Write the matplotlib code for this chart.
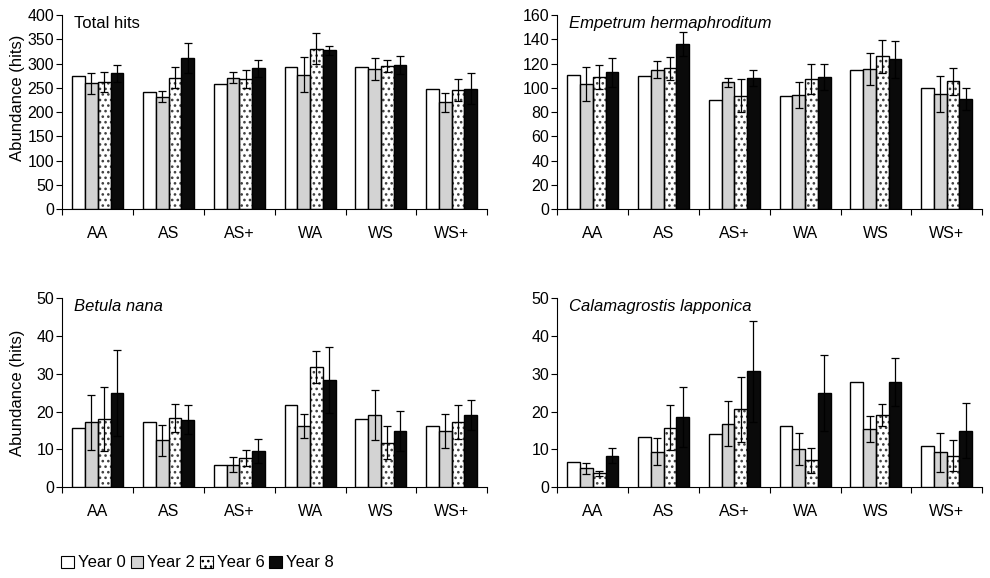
import numpy as np
import matplotlib
matplotlib.use("Agg")
import matplotlib.pyplot as plt
from matplotlib.patches import Patch

plt.rcParams['font.family'] = ['Liberation Sans', 'DejaVu Sans']
plt.rcParams['hatch.linewidth'] = 1.1

treatments = ["AA", "AS", "AS+", "WA", "WS", "WS+"]
years = ["Year 0", "Year 2", "Year 6", "Year 8"]

# mean hits per treatment, one row per survey year
total_mean = [[275, 242, 257, 292, 292, 248],
              [259, 232, 271, 277, 289, 220],
              [262, 271, 268, 331, 295, 245],
              [280, 311, 290, 327, 297, 248]]
total_err = [[22, 12, 11, 36, 22, 20],
             [21, 21, 18, 32, 13, 23],
             [18, 31, 18, 10, 19, 32]]

empetrum_mean = [[111, 109.5, 90, 93, 114.5, 99.5],
                 [103.5, 115, 104.5, 94, 115.5, 95],
                 [109, 116, 93.5, 107.5, 126, 105.5],
                 [113, 136, 108, 109, 123.5, 90.5]]
empetrum_err = [[14, 7, 3.5, 10.5, 13, 15],
                [10, 9.5, 13.5, 12.5, 13.5, 11],
                [12, 10, 6.5, 11, 15, 9]]

betula_mean = [[15.7, 17.2, 6.0, 21.7, 18.1, 16.2],
               [17.2, 12.5, 6.0, 16.3, 19.1, 14.9],
               [18.1, 18.4, 7.7, 31.8, 11.8, 17.3],
               [24.9, 17.9, 9.6, 28.3, 14.9, 19.1]]
betula_err = [[7.3, 4.1, 2.0, 3.2, 6.7, 4.5],
              [8.4, 3.7, 2.2, 4.2, 4.4, 4.5],
              [11.4, 3.8, 3.1, 8.7, 5.2, 3.9]]

calama_mean = [[6.8, 13.2, 14.1, 16.3, 27.8, 10.8],
               [5.0, 9.4, 16.8, 10.2, 15.5, 9.2],
               [3.7, 15.8, 20.6, 7.1, 19.0, 8.4],
               [8.4, 18.5, 30.7, 25.0, 27.8, 15.0]]
calama_err = [[1.5, 3.6, 5.9, 4.2, 3.4, 5.1],
              [0.6, 5.9, 8.5, 3.4, 2.9, 4.2],
              [2.1, 7.9, 13.4, 10.0, 6.4, 7.3]]

fills = ['white', '#d3d3d3', 'white', '#0a0a0a']
hatches = [None, None, '...', None]
width = 0.18

fig = plt.figure(figsize=(9.9, 5.78), dpi=100)

# rect, means, errors, title, italic title, y max, y step, y-label centre (or None)
panels = [
    ([0.063, 0.638, 0.429, 0.336], total_mean, total_err, "Total hits", False, 400, 50, 0.572),
    ([0.563, 0.638, 0.429, 0.336], empetrum_mean, empetrum_err, "Empetrum hermaphroditum", True, 160, 20, None),
    ([0.063, 0.157, 0.429, 0.327], betula_mean, betula_err, "Betula nana", True, 50, 10, 0.5),
    ([0.563, 0.157, 0.429, 0.327], calama_mean, calama_err, "Calamagrostis lapponica", True, 50, 10, None),
]

x = np.arange(len(treatments)) + 0.5

for rect, means, errs, title, italic, ymax, ystep, ylab in panels:
    ax = fig.add_axes(rect)
    for k in range(4):
        pos = x + (k - 1.5) * width
        if hatches[k]:
            ax.bar(pos, means[k], width, color=fills[k], edgecolor='#404040',
                   hatch=hatches[k], linewidth=0, zorder=2)
            ax.bar(pos, means[k], width, fill=False, edgecolor='black',
                   linewidth=1.0, zorder=3)
        else:
            ax.bar(pos, means[k], width, color=fills[k], edgecolor='black',
                   linewidth=1.0, zorder=3)
        if k > 0:
            ax.errorbar(pos, means[k], yerr=errs[k - 1], fmt='none', ecolor='black',
                        elinewidth=0.9, capsize=3, capthick=0.9, zorder=4)

    ax.set_xlim(0, 5.93)
    ax.set_ylim(0, ymax)
    ax.set_yticks(np.arange(0, ymax + 1, ystep))
    ax.set_xticks(x)
    ax.set_xticklabels(treatments)
    ax.set_xticks(np.arange(0, 7), minor=True)
    ax.tick_params(axis='x', which='major', length=0, pad=12, labelsize=11.5)
    ax.tick_params(axis='x', which='minor', length=4, width=0.8, direction='out')
    ax.tick_params(axis='y', length=4, width=0.8, direction='out', labelsize=11.5, pad=2)
    for s in ['top', 'right']:
        ax.spines[s].set_visible(False)
    for s in ['left', 'bottom']:
        ax.spines[s].set_linewidth(0.8)

    ax.text(0.028, 0.955, title, transform=ax.transAxes, fontsize=12,
            style='italic' if italic else 'normal', va='center', ha='left')
    if ylab is not None:
        ax.set_ylabel("Abundance (hits)", fontsize=12)
        ax.yaxis.set_label_coords(-0.088, ylab)

handles = [Patch(facecolor=fills[k], edgecolor='black', linewidth=0.8,
                 hatch=hatches[k]) for k in range(4)]
fig.legend(handles, years, loc='center left', bbox_to_anchor=(0.055, 0.026),
           ncol=4, frameon=False, fontsize=12, handlelength=0.75, handleheight=0.75,
           handletextpad=0.25, columnspacing=0.3, borderaxespad=0)

fig.savefig("out.png", dpi=100)
